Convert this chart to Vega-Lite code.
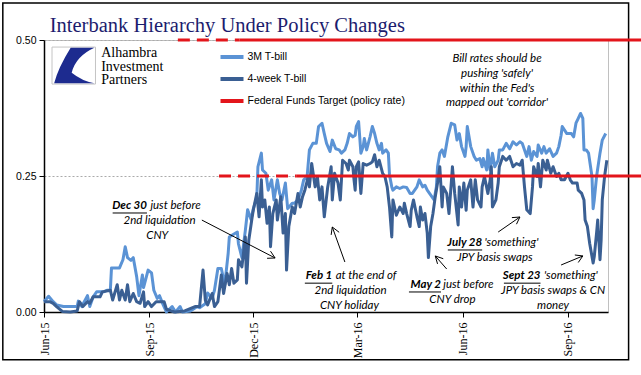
{
"$schema":"https://vega.github.io/schema/vega-lite/v6.json",
"width":564,"height":272,"autosize":"none",
"padding":{"left":44,"top":40,"right":33,"bottom":63},
"background":"white",
"config":{"view":{"stroke":"#c0c0c0","strokeWidth":1}},
"datasets":{
"bills":[
{"s":"3M T-bill","d":"2015-06-01","v":0.019},{"s":"3M T-bill","d":"2015-06-05","v":0.029},{"s":"3M T-bill","d":"2015-06-09","v":0.019},{"s":"3M T-bill","d":"2015-06-12","v":0.013},{"s":"3M T-bill","d":"2015-06-18","v":0.010},{"s":"3M T-bill","d":"2015-06-24","v":0.010},{"s":"3M T-bill","d":"2015-06-30","v":0.010},{"s":"3M T-bill","d":"2015-07-01","v":0.020},{"s":"3M T-bill","d":"2015-07-04","v":0.010},{"s":"3M T-bill","d":"2015-07-09","v":0.030},{"s":"3M T-bill","d":"2015-07-11","v":0.010},{"s":"3M T-bill","d":"2015-07-14","v":0.028},{"s":"3M T-bill","d":"2015-07-17","v":0.037},{"s":"3M T-bill","d":"2015-07-23","v":0.037},{"s":"3M T-bill","d":"2015-07-26","v":0.040},{"s":"3M T-bill","d":"2015-07-29","v":0.040},{"s":"3M T-bill","d":"2015-07-30","v":0.081},{"s":"3M T-bill","d":"2015-08-02","v":0.081},{"s":"3M T-bill","d":"2015-08-06","v":0.081},{"s":"3M T-bill","d":"2015-08-09","v":0.096},{"s":"3M T-bill","d":"2015-08-11","v":0.120},{"s":"3M T-bill","d":"2015-08-13","v":0.100},{"s":"3M T-bill","d":"2015-08-16","v":0.095},{"s":"3M T-bill","d":"2015-08-18","v":0.100},{"s":"3M T-bill","d":"2015-08-21","v":0.065},{"s":"3M T-bill","d":"2015-08-23","v":0.030},{"s":"3M T-bill","d":"2015-08-26","v":0.068},{"s":"3M T-bill","d":"2015-08-27","v":0.045},{"s":"3M T-bill","d":"2015-08-31","v":0.077},{"s":"3M T-bill","d":"2015-09-03","v":0.072},{"s":"3M T-bill","d":"2015-09-05","v":0.040},{"s":"3M T-bill","d":"2015-09-08","v":0.025},{"s":"3M T-bill","d":"2015-09-10","v":0.030},{"s":"3M T-bill","d":"2015-09-13","v":0.014},{"s":"3M T-bill","d":"2015-09-16","v":0.000},{"s":"3M T-bill","d":"2015-09-21","v":0.010},{"s":"3M T-bill","d":"2015-09-24","v":0.000},{"s":"3M T-bill","d":"2015-09-28","v":0.010},{"s":"3M T-bill","d":"2015-09-30","v":0.000},{"s":"3M T-bill","d":"2015-10-07","v":0.002},{"s":"3M T-bill","d":"2015-10-13","v":0.010},{"s":"3M T-bill","d":"2015-10-15","v":0.008},{"s":"3M T-bill","d":"2015-10-20","v":0.015},{"s":"3M T-bill","d":"2015-10-22","v":0.035},{"s":"3M T-bill","d":"2015-10-26","v":0.025},{"s":"3M T-bill","d":"2015-10-28","v":0.040},{"s":"3M T-bill","d":"2015-10-31","v":0.080},{"s":"3M T-bill","d":"2015-11-03","v":0.080},{"s":"3M T-bill","d":"2015-11-06","v":0.050},{"s":"3M T-bill","d":"2015-11-09","v":0.108},{"s":"3M T-bill","d":"2015-11-10","v":0.138},{"s":"3M T-bill","d":"2015-11-13","v":0.142},{"s":"3M T-bill","d":"2015-11-17","v":0.147},{"s":"3M T-bill","d":"2015-11-18","v":0.125},{"s":"3M T-bill","d":"2015-11-21","v":0.100},{"s":"3M T-bill","d":"2015-11-24","v":0.150},{"s":"3M T-bill","d":"2015-11-26","v":0.188},{"s":"3M T-bill","d":"2015-11-29","v":0.170},{"s":"3M T-bill","d":"2015-12-01","v":0.190},{"s":"3M T-bill","d":"2015-12-04","v":0.210},{"s":"3M T-bill","d":"2015-12-05","v":0.267},{"s":"3M T-bill","d":"2015-12-08","v":0.292},{"s":"3M T-bill","d":"2015-12-09","v":0.261},{"s":"3M T-bill","d":"2015-12-12","v":0.255},{"s":"3M T-bill","d":"2015-12-14","v":0.224},{"s":"3M T-bill","d":"2015-12-17","v":0.243},{"s":"3M T-bill","d":"2015-12-19","v":0.206},{"s":"3M T-bill","d":"2015-12-22","v":0.243},{"s":"3M T-bill","d":"2015-12-24","v":0.218},{"s":"3M T-bill","d":"2015-12-26","v":0.206},{"s":"3M T-bill","d":"2015-12-29","v":0.237},{"s":"3M T-bill","d":"2015-12-31","v":0.190},{"s":"3M T-bill","d":"2016-01-04","v":0.200},{"s":"3M T-bill","d":"2016-01-06","v":0.200},{"s":"3M T-bill","d":"2016-01-09","v":0.206},{"s":"3M T-bill","d":"2016-01-12","v":0.224},{"s":"3M T-bill","d":"2016-01-14","v":0.243},{"s":"3M T-bill","d":"2016-01-17","v":0.249},{"s":"3M T-bill","d":"2016-01-19","v":0.298},{"s":"3M T-bill","d":"2016-01-22","v":0.310},{"s":"3M T-bill","d":"2016-01-25","v":0.310},{"s":"3M T-bill","d":"2016-01-27","v":0.341},{"s":"3M T-bill","d":"2016-01-30","v":0.347},{"s":"3M T-bill","d":"2016-02-01","v":0.328},{"s":"3M T-bill","d":"2016-02-03","v":0.310},{"s":"3M T-bill","d":"2016-02-06","v":0.295},{"s":"3M T-bill","d":"2016-02-08","v":0.316},{"s":"3M T-bill","d":"2016-02-11","v":0.300},{"s":"3M T-bill","d":"2016-02-14","v":0.298},{"s":"3M T-bill","d":"2016-02-16","v":0.292},{"s":"3M T-bill","d":"2016-02-19","v":0.298},{"s":"3M T-bill","d":"2016-02-21","v":0.310},{"s":"3M T-bill","d":"2016-02-23","v":0.328},{"s":"3M T-bill","d":"2016-02-26","v":0.322},{"s":"3M T-bill","d":"2016-02-28","v":0.325},{"s":"3M T-bill","d":"2016-02-29","v":0.341},{"s":"3M T-bill","d":"2016-03-02","v":0.350},{"s":"3M T-bill","d":"2016-03-04","v":0.292},{"s":"3M T-bill","d":"2016-03-06","v":0.304},{"s":"3M T-bill","d":"2016-03-07","v":0.319},{"s":"3M T-bill","d":"2016-03-09","v":0.298},{"s":"3M T-bill","d":"2016-03-12","v":0.322},{"s":"3M T-bill","d":"2016-03-14","v":0.341},{"s":"3M T-bill","d":"2016-03-16","v":0.328},{"s":"3M T-bill","d":"2016-03-18","v":0.310},{"s":"3M T-bill","d":"2016-03-20","v":0.298},{"s":"3M T-bill","d":"2016-03-22","v":0.310},{"s":"3M T-bill","d":"2016-03-23","v":0.292},{"s":"3M T-bill","d":"2016-03-26","v":0.298},{"s":"3M T-bill","d":"2016-03-28","v":0.292},{"s":"3M T-bill","d":"2016-03-29","v":0.252},{"s":"3M T-bill","d":"2016-03-31","v":0.230},{"s":"3M T-bill","d":"2016-04-01","v":0.224},{"s":"3M T-bill","d":"2016-04-04","v":0.230},{"s":"3M T-bill","d":"2016-04-07","v":0.227},{"s":"3M T-bill","d":"2016-04-10","v":0.230},{"s":"3M T-bill","d":"2016-04-13","v":0.229},{"s":"3M T-bill","d":"2016-04-16","v":0.218},{"s":"3M T-bill","d":"2016-04-18","v":0.218},{"s":"3M T-bill","d":"2016-04-22","v":0.230},{"s":"3M T-bill","d":"2016-04-24","v":0.243},{"s":"3M T-bill","d":"2016-04-27","v":0.230},{"s":"3M T-bill","d":"2016-04-29","v":0.233},{"s":"3M T-bill","d":"2016-05-01","v":0.224},{"s":"3M T-bill","d":"2016-05-05","v":0.212},{"s":"3M T-bill","d":"2016-05-07","v":0.206},{"s":"3M T-bill","d":"2016-05-09","v":0.230},{"s":"3M T-bill","d":"2016-05-10","v":0.267},{"s":"3M T-bill","d":"2016-05-12","v":0.292},{"s":"3M T-bill","d":"2016-05-14","v":0.298},{"s":"3M T-bill","d":"2016-05-16","v":0.286},{"s":"3M T-bill","d":"2016-05-19","v":0.322},{"s":"3M T-bill","d":"2016-05-22","v":0.347},{"s":"3M T-bill","d":"2016-05-25","v":0.344},{"s":"3M T-bill","d":"2016-05-27","v":0.316},{"s":"3M T-bill","d":"2016-05-29","v":0.328},{"s":"3M T-bill","d":"2016-05-31","v":0.304},{"s":"3M T-bill","d":"2016-06-03","v":0.286},{"s":"3M T-bill","d":"2016-06-04","v":0.304},{"s":"3M T-bill","d":"2016-06-05","v":0.341},{"s":"3M T-bill","d":"2016-06-08","v":0.304},{"s":"3M T-bill","d":"2016-06-11","v":0.286},{"s":"3M T-bill","d":"2016-06-13","v":0.279},{"s":"3M T-bill","d":"2016-06-16","v":0.282},{"s":"3M T-bill","d":"2016-06-18","v":0.267},{"s":"3M T-bill","d":"2016-06-19","v":0.282},{"s":"3M T-bill","d":"2016-06-22","v":0.261},{"s":"3M T-bill","d":"2016-06-23","v":0.298},{"s":"3M T-bill","d":"2016-06-25","v":0.261},{"s":"3M T-bill","d":"2016-06-27","v":0.292},{"s":"3M T-bill","d":"2016-06-29","v":0.267},{"s":"3M T-bill","d":"2016-07-02","v":0.279},{"s":"3M T-bill","d":"2016-07-03","v":0.298},{"s":"3M T-bill","d":"2016-07-06","v":0.298},{"s":"3M T-bill","d":"2016-07-09","v":0.310},{"s":"3M T-bill","d":"2016-07-12","v":0.300},{"s":"3M T-bill","d":"2016-07-15","v":0.313},{"s":"3M T-bill","d":"2016-07-18","v":0.307},{"s":"3M T-bill","d":"2016-07-21","v":0.313},{"s":"3M T-bill","d":"2016-07-23","v":0.310},{"s":"3M T-bill","d":"2016-07-27","v":0.286},{"s":"3M T-bill","d":"2016-07-29","v":0.304},{"s":"3M T-bill","d":"2016-07-31","v":0.279},{"s":"3M T-bill","d":"2016-08-02","v":0.295},{"s":"3M T-bill","d":"2016-08-05","v":0.286},{"s":"3M T-bill","d":"2016-08-06","v":0.307},{"s":"3M T-bill","d":"2016-08-09","v":0.292},{"s":"3M T-bill","d":"2016-08-11","v":0.304},{"s":"3M T-bill","d":"2016-08-13","v":0.292},{"s":"3M T-bill","d":"2016-08-16","v":0.300},{"s":"3M T-bill","d":"2016-08-19","v":0.286},{"s":"3M T-bill","d":"2016-08-22","v":0.292},{"s":"3M T-bill","d":"2016-08-24","v":0.304},{"s":"3M T-bill","d":"2016-08-26","v":0.325},{"s":"3M T-bill","d":"2016-08-27","v":0.341},{"s":"3M T-bill","d":"2016-08-31","v":0.328},{"s":"3M T-bill","d":"2016-09-04","v":0.328},{"s":"3M T-bill","d":"2016-09-06","v":0.322},{"s":"3M T-bill","d":"2016-09-08","v":0.347},{"s":"3M T-bill","d":"2016-09-10","v":0.356},{"s":"3M T-bill","d":"2016-09-12","v":0.365},{"s":"3M T-bill","d":"2016-09-14","v":0.356},{"s":"3M T-bill","d":"2016-09-15","v":0.298},{"s":"3M T-bill","d":"2016-09-17","v":0.298},{"s":"3M T-bill","d":"2016-09-19","v":0.292},{"s":"3M T-bill","d":"2016-09-22","v":0.249},{"s":"3M T-bill","d":"2016-09-23","v":0.190},{"s":"3M T-bill","d":"2016-09-24","v":0.206},{"s":"3M T-bill","d":"2016-09-26","v":0.249},{"s":"3M T-bill","d":"2016-09-29","v":0.292},{"s":"3M T-bill","d":"2016-10-01","v":0.316},{"s":"3M T-bill","d":"2016-10-04","v":0.328},
{"s":"4-week T-bill","d":"2015-06-01","v":0.019},{"s":"4-week T-bill","d":"2015-06-06","v":0.019},{"s":"4-week T-bill","d":"2015-06-09","v":0.016},{"s":"4-week T-bill","d":"2015-06-12","v":0.010},{"s":"4-week T-bill","d":"2015-06-17","v":0.001},{"s":"4-week T-bill","d":"2015-06-24","v":0.000},{"s":"4-week T-bill","d":"2015-06-30","v":0.002},{"s":"4-week T-bill","d":"2015-07-02","v":0.019},{"s":"4-week T-bill","d":"2015-07-05","v":0.010},{"s":"4-week T-bill","d":"2015-07-09","v":0.019},{"s":"4-week T-bill","d":"2015-07-11","v":0.016},{"s":"4-week T-bill","d":"2015-07-14","v":0.028},{"s":"4-week T-bill","d":"2015-07-20","v":0.028},{"s":"4-week T-bill","d":"2015-07-22","v":0.037},{"s":"4-week T-bill","d":"2015-07-29","v":0.040},{"s":"4-week T-bill","d":"2015-07-31","v":0.022},{"s":"4-week T-bill","d":"2015-08-04","v":0.050},{"s":"4-week T-bill","d":"2015-08-06","v":0.022},{"s":"4-week T-bill","d":"2015-08-08","v":0.040},{"s":"4-week T-bill","d":"2015-08-11","v":0.022},{"s":"4-week T-bill","d":"2015-08-13","v":0.050},{"s":"4-week T-bill","d":"2015-08-15","v":0.019},{"s":"4-week T-bill","d":"2015-08-18","v":0.034},{"s":"4-week T-bill","d":"2015-08-21","v":0.019},{"s":"4-week T-bill","d":"2015-08-24","v":0.016},{"s":"4-week T-bill","d":"2015-08-27","v":0.037},{"s":"4-week T-bill","d":"2015-08-28","v":0.010},{"s":"4-week T-bill","d":"2015-08-31","v":0.019},{"s":"4-week T-bill","d":"2015-09-03","v":0.010},{"s":"4-week T-bill","d":"2015-09-07","v":0.019},{"s":"4-week T-bill","d":"2015-09-10","v":0.019},{"s":"4-week T-bill","d":"2015-09-14","v":0.019},{"s":"4-week T-bill","d":"2015-09-16","v":0.005},{"s":"4-week T-bill","d":"2015-09-23","v":0.000},{"s":"4-week T-bill","d":"2015-10-02","v":0.002},{"s":"4-week T-bill","d":"2015-10-11","v":0.010},{"s":"4-week T-bill","d":"2015-10-15","v":0.010},{"s":"4-week T-bill","d":"2015-10-18","v":0.077},{"s":"4-week T-bill","d":"2015-10-20","v":0.022},{"s":"4-week T-bill","d":"2015-10-22","v":0.013},{"s":"4-week T-bill","d":"2015-10-26","v":0.034},{"s":"4-week T-bill","d":"2015-10-28","v":0.010},{"s":"4-week T-bill","d":"2015-10-31","v":0.019},{"s":"4-week T-bill","d":"2015-11-03","v":0.068},{"s":"4-week T-bill","d":"2015-11-05","v":0.034},{"s":"4-week T-bill","d":"2015-11-08","v":0.071},{"s":"4-week T-bill","d":"2015-11-10","v":0.050},{"s":"4-week T-bill","d":"2015-11-12","v":0.080},{"s":"4-week T-bill","d":"2015-11-14","v":0.053},{"s":"4-week T-bill","d":"2015-11-17","v":0.059},{"s":"4-week T-bill","d":"2015-11-18","v":0.096},{"s":"4-week T-bill","d":"2015-11-21","v":0.083},{"s":"4-week T-bill","d":"2015-11-24","v":0.138},{"s":"4-week T-bill","d":"2015-11-25","v":0.053},{"s":"4-week T-bill","d":"2015-11-27","v":0.132},{"s":"4-week T-bill","d":"2015-11-30","v":0.175},{"s":"4-week T-bill","d":"2015-12-01","v":0.188},{"s":"4-week T-bill","d":"2015-12-04","v":0.218},{"s":"4-week T-bill","d":"2015-12-06","v":0.175},{"s":"4-week T-bill","d":"2015-12-08","v":0.243},{"s":"4-week T-bill","d":"2015-12-09","v":0.193},{"s":"4-week T-bill","d":"2015-12-11","v":0.206},{"s":"4-week T-bill","d":"2015-12-13","v":0.163},{"s":"4-week T-bill","d":"2015-12-15","v":0.193},{"s":"4-week T-bill","d":"2015-12-16","v":0.120},{"s":"4-week T-bill","d":"2015-12-18","v":0.181},{"s":"4-week T-bill","d":"2015-12-21","v":0.206},{"s":"4-week T-bill","d":"2015-12-22","v":0.169},{"s":"4-week T-bill","d":"2015-12-25","v":0.212},{"s":"4-week T-bill","d":"2015-12-27","v":0.145},{"s":"4-week T-bill","d":"2015-12-29","v":0.181},{"s":"4-week T-bill","d":"2015-12-30","v":0.077},{"s":"4-week T-bill","d":"2016-01-01","v":0.157},{"s":"4-week T-bill","d":"2016-01-04","v":0.193},{"s":"4-week T-bill","d":"2016-01-06","v":0.181},{"s":"4-week T-bill","d":"2016-01-09","v":0.218},{"s":"4-week T-bill","d":"2016-01-11","v":0.193},{"s":"4-week T-bill","d":"2016-01-13","v":0.212},{"s":"4-week T-bill","d":"2016-01-15","v":0.224},{"s":"4-week T-bill","d":"2016-01-18","v":0.249},{"s":"4-week T-bill","d":"2016-01-19","v":0.230},{"s":"4-week T-bill","d":"2016-01-21","v":0.273},{"s":"4-week T-bill","d":"2016-01-24","v":0.230},{"s":"4-week T-bill","d":"2016-01-26","v":0.249},{"s":"4-week T-bill","d":"2016-01-28","v":0.206},{"s":"4-week T-bill","d":"2016-01-30","v":0.230},{"s":"4-week T-bill","d":"2016-02-01","v":0.175},{"s":"4-week T-bill","d":"2016-02-04","v":0.230},{"s":"4-week T-bill","d":"2016-02-07","v":0.267},{"s":"4-week T-bill","d":"2016-02-08","v":0.206},{"s":"4-week T-bill","d":"2016-02-10","v":0.255},{"s":"4-week T-bill","d":"2016-02-13","v":0.237},{"s":"4-week T-bill","d":"2016-02-15","v":0.206},{"s":"4-week T-bill","d":"2016-02-17","v":0.279},{"s":"4-week T-bill","d":"2016-02-20","v":0.273},{"s":"4-week T-bill","d":"2016-02-22","v":0.261},{"s":"4-week T-bill","d":"2016-02-23","v":0.279},{"s":"4-week T-bill","d":"2016-02-26","v":0.267},{"s":"4-week T-bill","d":"2016-02-27","v":0.243},{"s":"4-week T-bill","d":"2016-02-28","v":0.224},{"s":"4-week T-bill","d":"2016-02-29","v":0.267},{"s":"4-week T-bill","d":"2016-03-02","v":0.276},{"s":"4-week T-bill","d":"2016-03-04","v":0.218},{"s":"4-week T-bill","d":"2016-03-06","v":0.273},{"s":"4-week T-bill","d":"2016-03-09","v":0.270},{"s":"4-week T-bill","d":"2016-03-12","v":0.273},{"s":"4-week T-bill","d":"2016-03-14","v":0.276},{"s":"4-week T-bill","d":"2016-03-16","v":0.289},{"s":"4-week T-bill","d":"2016-03-18","v":0.267},{"s":"4-week T-bill","d":"2016-03-20","v":0.279},{"s":"4-week T-bill","d":"2016-03-23","v":0.255},{"s":"4-week T-bill","d":"2016-03-25","v":0.249},{"s":"4-week T-bill","d":"2016-03-27","v":0.230},{"s":"4-week T-bill","d":"2016-03-29","v":0.193},{"s":"4-week T-bill","d":"2016-03-31","v":0.138},{"s":"4-week T-bill","d":"2016-04-01","v":0.206},{"s":"4-week T-bill","d":"2016-04-03","v":0.187},{"s":"4-week T-bill","d":"2016-04-04","v":0.178},{"s":"4-week T-bill","d":"2016-04-07","v":0.193},{"s":"4-week T-bill","d":"2016-04-10","v":0.181},{"s":"4-week T-bill","d":"2016-04-11","v":0.200},{"s":"4-week T-bill","d":"2016-04-13","v":0.181},{"s":"4-week T-bill","d":"2016-04-16","v":0.157},{"s":"4-week T-bill","d":"2016-04-17","v":0.187},{"s":"4-week T-bill","d":"2016-04-19","v":0.206},{"s":"4-week T-bill","d":"2016-04-22","v":0.175},{"s":"4-week T-bill","d":"2016-04-24","v":0.157},{"s":"4-week T-bill","d":"2016-04-25","v":0.193},{"s":"4-week T-bill","d":"2016-04-27","v":0.169},{"s":"4-week T-bill","d":"2016-04-29","v":0.181},{"s":"4-week T-bill","d":"2016-05-01","v":0.145},{"s":"4-week T-bill","d":"2016-05-02","v":0.100},{"s":"4-week T-bill","d":"2016-05-04","v":0.157},{"s":"4-week T-bill","d":"2016-05-06","v":0.181},{"s":"4-week T-bill","d":"2016-05-08","v":0.212},{"s":"4-week T-bill","d":"2016-05-10","v":0.237},{"s":"4-week T-bill","d":"2016-05-12","v":0.267},{"s":"4-week T-bill","d":"2016-05-14","v":0.193},{"s":"4-week T-bill","d":"2016-05-15","v":0.230},{"s":"4-week T-bill","d":"2016-05-18","v":0.218},{"s":"4-week T-bill","d":"2016-05-20","v":0.181},{"s":"4-week T-bill","d":"2016-05-22","v":0.237},{"s":"4-week T-bill","d":"2016-05-23","v":0.267},{"s":"4-week T-bill","d":"2016-05-25","v":0.218},{"s":"4-week T-bill","d":"2016-05-28","v":0.160},{"s":"4-week T-bill","d":"2016-05-29","v":0.230},{"s":"4-week T-bill","d":"2016-05-31","v":0.193},{"s":"4-week T-bill","d":"2016-06-02","v":0.237},{"s":"4-week T-bill","d":"2016-06-04","v":0.187},{"s":"4-week T-bill","d":"2016-06-05","v":0.224},{"s":"4-week T-bill","d":"2016-06-08","v":0.243},{"s":"4-week T-bill","d":"2016-06-10","v":0.193},{"s":"4-week T-bill","d":"2016-06-12","v":0.243},{"s":"4-week T-bill","d":"2016-06-14","v":0.206},{"s":"4-week T-bill","d":"2016-06-17","v":0.193},{"s":"4-week T-bill","d":"2016-06-18","v":0.230},{"s":"4-week T-bill","d":"2016-06-20","v":0.249},{"s":"4-week T-bill","d":"2016-06-23","v":0.218},{"s":"4-week T-bill","d":"2016-06-25","v":0.243},{"s":"4-week T-bill","d":"2016-06-26","v":0.267},{"s":"4-week T-bill","d":"2016-06-27","v":0.193},{"s":"4-week T-bill","d":"2016-06-30","v":0.206},{"s":"4-week T-bill","d":"2016-07-02","v":0.237},{"s":"4-week T-bill","d":"2016-07-03","v":0.267},{"s":"4-week T-bill","d":"2016-07-06","v":0.286},{"s":"4-week T-bill","d":"2016-07-09","v":0.279},{"s":"4-week T-bill","d":"2016-07-12","v":0.286},{"s":"4-week T-bill","d":"2016-07-15","v":0.267},{"s":"4-week T-bill","d":"2016-07-18","v":0.273},{"s":"4-week T-bill","d":"2016-07-21","v":0.270},{"s":"4-week T-bill","d":"2016-07-23","v":0.279},{"s":"4-week T-bill","d":"2016-07-25","v":0.230},{"s":"4-week T-bill","d":"2016-07-27","v":0.188},{"s":"4-week T-bill","d":"2016-07-30","v":0.181},{"s":"4-week T-bill","d":"2016-08-01","v":0.230},{"s":"4-week T-bill","d":"2016-08-02","v":0.267},{"s":"4-week T-bill","d":"2016-08-05","v":0.249},{"s":"4-week T-bill","d":"2016-08-06","v":0.273},{"s":"4-week T-bill","d":"2016-08-08","v":0.230},{"s":"4-week T-bill","d":"2016-08-10","v":0.279},{"s":"4-week T-bill","d":"2016-08-13","v":0.261},{"s":"4-week T-bill","d":"2016-08-14","v":0.279},{"s":"4-week T-bill","d":"2016-08-17","v":0.255},{"s":"4-week T-bill","d":"2016-08-19","v":0.267},{"s":"4-week T-bill","d":"2016-08-22","v":0.249},{"s":"4-week T-bill","d":"2016-08-24","v":0.255},{"s":"4-week T-bill","d":"2016-08-26","v":0.243},{"s":"4-week T-bill","d":"2016-08-29","v":0.243},{"s":"4-week T-bill","d":"2016-09-01","v":0.255},{"s":"4-week T-bill","d":"2016-09-03","v":0.243},{"s":"4-week T-bill","d":"2016-09-05","v":0.237},{"s":"4-week T-bill","d":"2016-09-09","v":0.237},{"s":"4-week T-bill","d":"2016-09-10","v":0.224},{"s":"4-week T-bill","d":"2016-09-13","v":0.218},{"s":"4-week T-bill","d":"2016-09-15","v":0.206},{"s":"4-week T-bill","d":"2016-09-16","v":0.169},{"s":"4-week T-bill","d":"2016-09-18","v":0.157},{"s":"4-week T-bill","d":"2016-09-20","v":0.126},{"s":"4-week T-bill","d":"2016-09-22","v":0.102},{"s":"4-week T-bill","d":"2016-09-23","v":0.090},{"s":"4-week T-bill","d":"2016-09-24","v":0.102},{"s":"4-week T-bill","d":"2016-09-26","v":0.145},{"s":"4-week T-bill","d":"2016-09-27","v":0.169},{"s":"4-week T-bill","d":"2016-09-29","v":0.096},{"s":"4-week T-bill","d":"2016-09-30","v":0.132},{"s":"4-week T-bill","d":"2016-10-01","v":0.206},{"s":"4-week T-bill","d":"2016-10-03","v":0.249},{"s":"4-week T-bill","d":"2016-10-05","v":0.279}
],
"fedDashed":[{"d":"2015-09-26","d2":"2015-11-19","v":0.5},{"d":"2015-11-01","d2":"2016-01-08","v":0.25}],
"fedSolid":[{"d":"2015-11-19","d2":"2016-11-06","v":0.5},{"d":"2016-01-08","d2":"2016-11-06","v":0.25}],
"frame":[{"d":"2015-04-26","d2":"2016-10-24","v":-0.088,"v2":0.568}],
"logoBox":[{"d":"2015-06-08","d2":"2015-07-16","v":0.419,"v2":0.487}],
"logoMark":[{"d":"2015-06-27","v":0.453}],
"logoText":[{"d":"2015-07-21","v":0.476,"t":"Alhambra"},{"d":"2015-07-21","v":0.451,"t":"Investment"},{"d":"2015-07-21","v":0.426,"t":"Partners"}],
"titleText":[{"d":"2015-06-06","v":0.5147,"t":"Interbank Hierarchy Under Policy Changes"}],
"noteBold":[{"d":"2015-08-30","v":0.195,"t":"Dec 30"},{"d":"2016-02-08","v":0.066,"t":"Feb 1"},{"d":"2016-05-13","v":0.0496,"t":"May 2"},{"d":"2016-06-18","v":0.127,"t":"July 28"},{"d":"2016-08-08","v":0.066,"t":"Sept 23"}],
"noteAfter":[{"d":"2015-09-02","v":0.195,"t":"just before"},{"d":"2016-02-11","v":0.066,"t":"at the end of"},{"d":"2016-05-15","v":0.0496,"t":"just before"},{"d":"2016-06-20","v":0.127,"t":"'something'"},{"d":"2016-08-11","v":0.066,"t":"'something'"}],
"noteCenter":[{"d":"2015-09-10","v":0.167,"t":"2nd liquidation"},{"d":"2015-09-08","v":0.140,"t":"CNY"},{"d":"2016-02-24","v":0.0386,"t":"2nd liquidation"},{"d":"2016-02-23","v":0.011,"t":"CNY holiday"},{"d":"2016-05-23","v":0.022,"t":"CNY drop"},{"d":"2016-06-29","v":0.099,"t":"JPY basis swaps"},{"d":"2016-08-19","v":0.0386,"t":"JPY basis swaps & CN"},{"d":"2016-08-19","v":0.011,"t":"money"},{"d":"2016-07-01","v":0.465,"t":"Bill rates should be"},{"d":"2016-07-01","v":0.4375,"t":"pushing 'safely'"},{"d":"2016-07-01","v":0.410,"t":"within the Fed's"},{"d":"2016-07-01","v":0.384,"t":"mapped out 'corridor'"}],
"underlines":[{"d":"2015-07-31","d2":"2015-08-30","v":0.182},{"d":"2016-01-15","d2":"2016-02-08","v":0.053},{"d":"2016-04-15","d2":"2016-05-13","v":0.0368},{"d":"2016-05-19","d2":"2016-06-18","v":0.114},{"d":"2016-07-07","d2":"2016-08-08","v":0.053}],
"arrows":[
{"d":"2015-10-17","v":0.169,"d2":"2015-12-20","v2":0.0993},{"d":"2015-12-16","v":0.1118,"d2":"2015-12-20","v2":0.0993},{"d":"2015-12-13","v":0.0987,"d2":"2015-12-20","v2":0.0993},
{"d":"2016-02-19","v":0.0919,"d2":"2016-02-08","v2":0.15625},{"d":"2016-02-07","v":0.1417,"d2":"2016-02-08","v2":0.15625},{"d":"2016-02-14","v":0.1465,"d2":"2016-02-08","v2":0.15625},
{"d":"2016-05-18","v":0.079,"d2":"2016-05-08","v2":0.103},{"d":"2016-05-10","v":0.0884,"d2":"2016-05-08","v2":0.103},{"d":"2016-05-15","v":0.098,"d2":"2016-05-08","v2":0.103},
{"d":"2016-07-02","v":0.147,"d2":"2016-07-21","v2":0.1746},{"d":"2016-07-14","v":0.1735,"d2":"2016-07-21","v2":0.1746},{"d":"2016-07-18","v":0.1614,"d2":"2016-07-21","v2":0.1746},
{"d":"2016-08-26","v":0.0864,"d2":"2016-09-14","v2":0.103},{"d":"2016-09-07","v":0.1048,"d2":"2016-09-14","v2":0.103},{"d":"2016-09-10","v":0.091,"d2":"2016-09-14","v2":0.103}
]
},
"encoding":{
"x":{"field":"d","type":"temporal","title":null,
"scale":{"type":"utc","domain":[{"year":2015,"month":"jun","date":1,"utc":true},{"year":2016,"month":"oct","date":6,"utc":true}]},
"axis":{"values":[{"year":2015,"month":"jun","date":1,"utc":true},{"year":2015,"month":"sep","date":1,"utc":true},{"year":2015,"month":"dec","date":1,"utc":true},{"year":2016,"month":"mar","date":1,"utc":true},{"year":2016,"month":"jun","date":1,"utc":true},{"year":2016,"month":"sep","date":1,"utc":true}],
"format":"%b-%y","labelAngle":-90,"labelAlign":"right","labelBaseline":"middle","labelFont":"Liberation Serif","labelFontSize":12,"labelColor":"black","labelPadding":5,"labelFlush":false,"labelOverlap":false,"tickSize":5,"tickColor":"black","domainColor":"black","domainWidth":1.5,"grid":false}},
"y":{"field":"v","type":"quantitative","title":null,
"scale":{"domain":[0,0.5],"nice":false,"zero":false},
"axis":{"values":[0,0.25,0.5],"format":".2f","grid":true,"gridDash":[2,2],"gridColor":"#aaaaaa","labelFont":"Liberation Sans","labelFontSize":10.5,"labelColor":"black","labelPadding":3,"tickSize":5,"tickColor":"black","domainColor":"black","domainWidth":1.5}}
},
"layer":[
{"data":{"name":"frame"},"mark":{"type":"rect","fill":"white","fillOpacity":0,"stroke":"black","strokeWidth":1.5},"encoding":{"x2":{"field":"d2"},"y2":{"field":"v2"}}},
{"data":{"name":"logoBox"},"mark":{"type":"rect","fill":"white","stroke":"#c4c4c4","strokeWidth":1},"encoding":{"x2":{"field":"d2"},"y2":{"field":"v2"}}},
{"data":{"name":"logoMark"},"mark":{"type":"point","shape":"M -0.15 -0.86 L 1 -0.86 Q 0.1 -0.45 -0.1 0.35 Q 0.4 0.75 1 0.86 L -0.95 0.86 Q -0.75 0.1 -0.15 -0.86 Z","filled":true,"fill":"#1d2b8f","opacity":1,"size":1700,"strokeWidth":0}},
{"data":{"name":"logoText"},"mark":{"type":"text","align":"left","baseline":"middle","font":"Liberation Serif","fontSize":14,"color":"black"},"encoding":{"text":{"field":"t"}}},
{"data":{"name":"bills"},"mark":{"type":"line","strokeWidth":3,"strokeJoin":"round"},
"encoding":{"color":{"field":"s","type":"nominal","scale":{"domain":["3M T-bill","4-week T-bill","Federal Funds Target (policy rate)"],"range":["#5b93d5","#3a5f93","#e3151b"]},
"legend":{"orient":"none","legendX":174.5,"legendY":3.5,"title":null,"direction":"vertical","symbolType":"stroke","symbolStrokeWidth":4,"symbolSize":529,"labelFont":"Liberation Sans","labelFontSize":10.5,"labelColor":"black","labelOffset":2,"rowPadding":-4,"padding":0,"offset":0}}}},
{"data":{"name":"fedDashed"},"mark":{"type":"rule","color":"#e3151b","strokeWidth":3,"strokeDash":[12,7]},"encoding":{"x2":{"field":"d2"}}},
{"data":{"name":"fedSolid"},"mark":{"type":"rule","color":"#e3151b","strokeWidth":3},"encoding":{"x2":{"field":"d2"}}},
{"data":{"name":"arrows"},"mark":{"type":"rule","color":"black","strokeWidth":1},"encoding":{"x2":{"field":"d2"},"y2":{"field":"v2"}}},
{"data":{"name":"underlines"},"mark":{"type":"rule","color":"black","strokeWidth":1},"encoding":{"x2":{"field":"d2"}}},
{"data":{"name":"noteBold"},"mark":{"type":"text","align":"right","baseline":"middle","font":"Lato","fontStyle":"italic","fontWeight":"bold","fontSize":11.5,"color":"black"},"encoding":{"text":{"field":"t"}}},
{"data":{"name":"noteAfter"},"mark":{"type":"text","align":"left","baseline":"middle","font":"Lato","fontStyle":"italic","fontSize":11.5,"color":"black"},"encoding":{"text":{"field":"t"}}},
{"data":{"name":"noteCenter"},"mark":{"type":"text","align":"center","baseline":"middle","font":"Lato","fontStyle":"italic","fontSize":11.5,"color":"black"},"encoding":{"text":{"field":"t"}}},
{"data":{"name":"titleText"},"mark":{"type":"text","align":"left","baseline":"alphabetic","font":"Liberation Serif","fontSize":20.5,"color":"#1c1c6e"},"encoding":{"text":{"field":"t"}}}
]
}
